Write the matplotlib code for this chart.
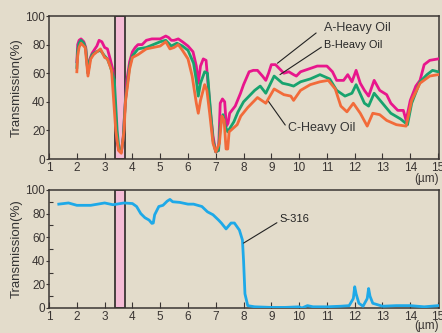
import numpy as np
import matplotlib
matplotlib.use("Agg")
import matplotlib.pyplot as plt
from matplotlib.ticker import MultipleLocator

plt.rcParams['font.family'] = ['Liberation Sans', 'DejaVu Sans']

# Heavy oil transmission spectra (wavelength in um, transmission in %)
a_x = [2.0, 2.03, 2.08, 2.15, 2.25, 2.32, 2.4, 2.47, 2.55, 2.65, 2.72, 2.8, 2.9, 3.0,
       3.1, 3.2, 3.3, 3.38, 3.45, 3.52, 3.6, 3.67, 3.72, 3.8, 3.9, 4.0, 4.1, 4.2, 4.35,
       4.5, 4.7, 5.0, 5.2, 5.3, 5.4, 5.5, 5.65, 5.8, 6.0, 6.18, 6.3, 6.37, 6.45, 6.55,
       6.65, 6.72, 6.8, 6.9, 7.0, 7.1, 7.16, 7.24, 7.32, 7.38, 7.44, 7.5, 7.7, 7.89,
       8.0, 8.2, 8.35, 8.5, 8.68, 8.8, 8.9, 9.0, 9.15, 9.3, 9.45, 9.63, 9.8, 9.9, 10.05,
       10.35, 10.65, 11.0, 11.2, 11.35, 11.6, 11.75, 11.9, 12.05, 12.2, 12.35, 12.5,
       12.7, 12.9, 13.15, 13.3, 13.55, 13.75, 13.85, 14.0, 14.2, 14.35, 14.5, 14.7, 15.0]
a_y = [68, 80, 83, 84, 82, 78, 60, 70, 74, 77, 79, 83, 82, 78,
       77, 70, 62, 35, 12, 6, 5, 15, 32, 55, 68, 75, 78, 80, 80,
       83, 84, 84, 86, 85, 83, 83, 84, 82, 79, 75, 65, 53, 65, 70,
       69, 53, 34, 16, 5, 6, 39, 42, 40, 23, 25, 32, 37, 46,
       52, 61, 62, 62, 58, 55, 60, 66, 66, 63, 60, 61, 59, 58, 61,
       63, 65, 65, 61, 55, 55, 59, 54, 62, 53, 48, 44,
       55, 48, 45, 39, 34, 34, 27, 41, 51, 55, 66, 69, 70]

b_x = [2.0, 2.03, 2.08, 2.15, 2.25, 2.32, 2.4, 2.47, 2.55, 2.7, 2.85, 3.0, 3.1, 3.2,
       3.35, 3.45, 3.52, 3.6, 3.67, 3.75, 3.9, 4.0, 4.2, 4.5, 5.0, 5.2, 5.4, 5.6, 5.8,
       6.0, 6.2, 6.3, 6.37, 6.45, 6.6, 6.7, 6.78, 6.9, 7.0, 7.1, 7.16, 7.26, 7.34, 7.43,
       7.65, 7.8, 8.0, 8.2, 8.4, 8.6, 8.8, 9.1, 9.4, 9.63, 9.8, 10.05, 10.4, 10.75,
       11.1, 11.35, 11.65, 11.9, 12.05, 12.35, 12.5, 12.7, 13.0, 13.3, 13.65, 13.9,
       14.05, 14.35, 14.6, 14.8, 15.0]
b_y = [64, 76, 81, 83, 81, 77, 60, 69, 73, 75, 76, 72, 70, 65,
       55, 20, 6, 5, 15, 42, 65, 72, 77, 78, 82, 83, 79, 81, 79,
       76, 67, 55, 44, 53, 61, 60, 41, 13, 5, 6, 23, 31, 23, 19,
       26, 33, 40, 44, 48, 51, 46, 58, 53, 52, 51, 54, 56, 59,
       56, 48, 44, 46, 52, 39, 37, 46, 39, 32, 28, 24,
       39, 54, 59, 62, 61]

c_x = [2.0, 2.03, 2.08, 2.15, 2.3, 2.4, 2.5, 2.6, 2.85, 3.0, 3.1, 3.25, 3.4, 3.5,
       3.6, 3.7, 3.75, 3.9, 4.0, 4.2, 4.5, 5.0, 5.2, 5.35, 5.5, 5.65, 5.8, 6.0, 6.15,
       6.3, 6.37, 6.45, 6.6, 6.68, 6.78, 6.9, 7.0, 7.13, 7.22, 7.3, 7.37, 7.43, 7.48,
       7.77, 7.9, 8.15, 8.5, 8.8, 9.1, 9.45, 9.7, 9.8, 10.05, 10.4, 10.75, 11.05, 11.3,
       11.5, 11.72, 11.95, 12.2, 12.45, 12.65, 12.9, 13.15, 13.5, 13.85, 14.05, 14.35,
       14.7, 15.0]
c_y = [61, 72, 78, 81, 78, 58, 70, 73, 77, 71, 70, 62, 20, 6,
       4, 20, 40, 63, 71, 73, 77, 79, 82, 77, 78, 80, 76, 70, 58,
       39, 32, 41, 52, 48, 32, 11, 5, 11, 30, 27, 7, 7, 19,
       24, 30, 36, 43, 39, 49, 45, 44, 41, 48, 52, 54, 55, 49,
       37, 33, 39, 32, 23, 32, 31, 27, 24, 23, 41, 53,
       58, 59]

# S-316 transmission spectrum
s_x = [1.35, 1.7, 2.0, 2.5, 3.0, 3.3, 3.7, 4.0, 4.15, 4.3, 4.45, 4.6, 4.7, 4.75, 4.8,
       4.95, 5.1, 5.25, 5.35, 5.45, 5.7, 6.0, 6.2, 6.5, 6.7, 6.9, 7.1, 7.2, 7.37, 7.55,
       7.67, 7.85, 7.96, 8.0, 8.05, 8.15, 8.4, 9.0, 9.5, 10.0, 10.1, 10.3, 10.5, 11.0,
       11.5, 11.8, 11.95, 12.0, 12.05, 12.15, 12.3, 12.45, 12.5, 12.55, 12.65, 13.0,
       13.5, 14.0, 14.5, 15.0]
s_y = [88, 89, 87, 87, 89, 87.5, 89, 88.5, 86, 80, 76.5, 74.5, 71.7, 72, 79,
       86, 87, 90.5, 92, 90, 89.5, 88, 88, 86, 81.5, 79, 74.5, 72, 67, 72,
       72, 66, 57.5, 40, 12, 2, 1, 0.5, 0.5, 1, 0, 2, 1, 1,
       1.5, 2, 8, 18, 12, 4, 1.5, 8, 16.5, 10, 4, 1.5,
       2, 2, 1, 2]

band = (3.37, 3.73)

BG = '#e3dccb'
DARK = '#3a3533'
fig = plt.figure(figsize=(4.42, 3.33), dpi=100, facecolor=BG)
ax1 = fig.add_axes([0.111, 0.5225, 0.882, 0.4294], facecolor=BG)
ax2 = fig.add_axes([0.111, 0.0751, 0.882, 0.3544], facecolor=BG)

for ax in (ax1, ax2):
    ax.axvspan(band[0], band[1], facecolor='#f5bcd6', edgecolor=DARK, lw=1.3, zorder=1)
    ax.set_xlim(1, 15.03)
    ax.set_ylim(0, 100)
    ax.set_xticks(range(1, 16))
    ax.set_yticks(range(0, 101, 20))
    ax.tick_params(axis='x', direction='in', length=4, width=0.8, colors=DARK,
                   labelsize=8.5, pad=2)
    ax.tick_params(axis='y', direction='out', length=2.5, width=0.8, colors=DARK,
                   labelsize=8.5, pad=0.3)
    for s in ax.spines.values():
        s.set_color(DARK)
        s.set_linewidth(1.1)
    ax.set_ylabel('Transmission(%)', fontsize=9.5, color='#333333', labelpad=2)
    ax.text(1.0, -0.1, '(\u00b5m)', transform=ax.transAxes, ha='right', va='top',
            fontsize=8.5, color=DARK, clip_on=False)

ax2.yaxis.set_minor_locator(MultipleLocator(10))
ax2.tick_params(axis='y', which='minor', direction='in', length=3, width=0.8, colors=DARK)

ax1.plot(a_x, a_y, color='#e8168c', lw=2.0, zorder=3)
ax1.plot(b_x, b_y, color='#17a36e', lw=2.0, zorder=4)
ax1.plot(c_x, c_y, color='#f26b3a', lw=2.0, zorder=5)
ax2.plot(s_x, s_y, color='#1ea9e8', lw=2.0, zorder=3)

# callouts
ax1.annotate('A-Heavy Oil', xy=(9.22, 67), xytext=(10.9, 91.5), fontsize=9,
             color='#333333', va='center', ha='left',
             arrowprops=dict(arrowstyle='-', color='#222222', lw=0.8, shrinkA=0, shrinkB=0,
                             relpos=(-0.12, 0.1)))
ax1.annotate('B-Heavy Oil', xy=(9.31, 59), xytext=(10.9, 79.5), fontsize=7.8,
             color='#222222', va='center', ha='left',
             arrowprops=dict(arrowstyle='-', color='#222222', lw=0.8, shrinkA=0, shrinkB=0,
                             relpos=(0, 0.5)))
ax1.annotate('C-Heavy Oil', xy=(8.87, 41), xytext=(9.6, 21.5), fontsize=9,
             color='#333333', va='center', ha='left',
             arrowprops=dict(arrowstyle='-', color='#222222', lw=0.8, shrinkA=0, shrinkB=0,
                             relpos=(-0.02, 0.6)))
ax2.annotate('S-316', xy=(8.0, 55), xytext=(9.3, 75), fontsize=8,
             color='#222222', va='center', ha='left',
             arrowprops=dict(arrowstyle='-', color='#222222', lw=0.8, shrinkA=0, shrinkB=0,
                             relpos=(-0.08, 0.2)))

fig.savefig('out.png', dpi=100, facecolor=BG)
